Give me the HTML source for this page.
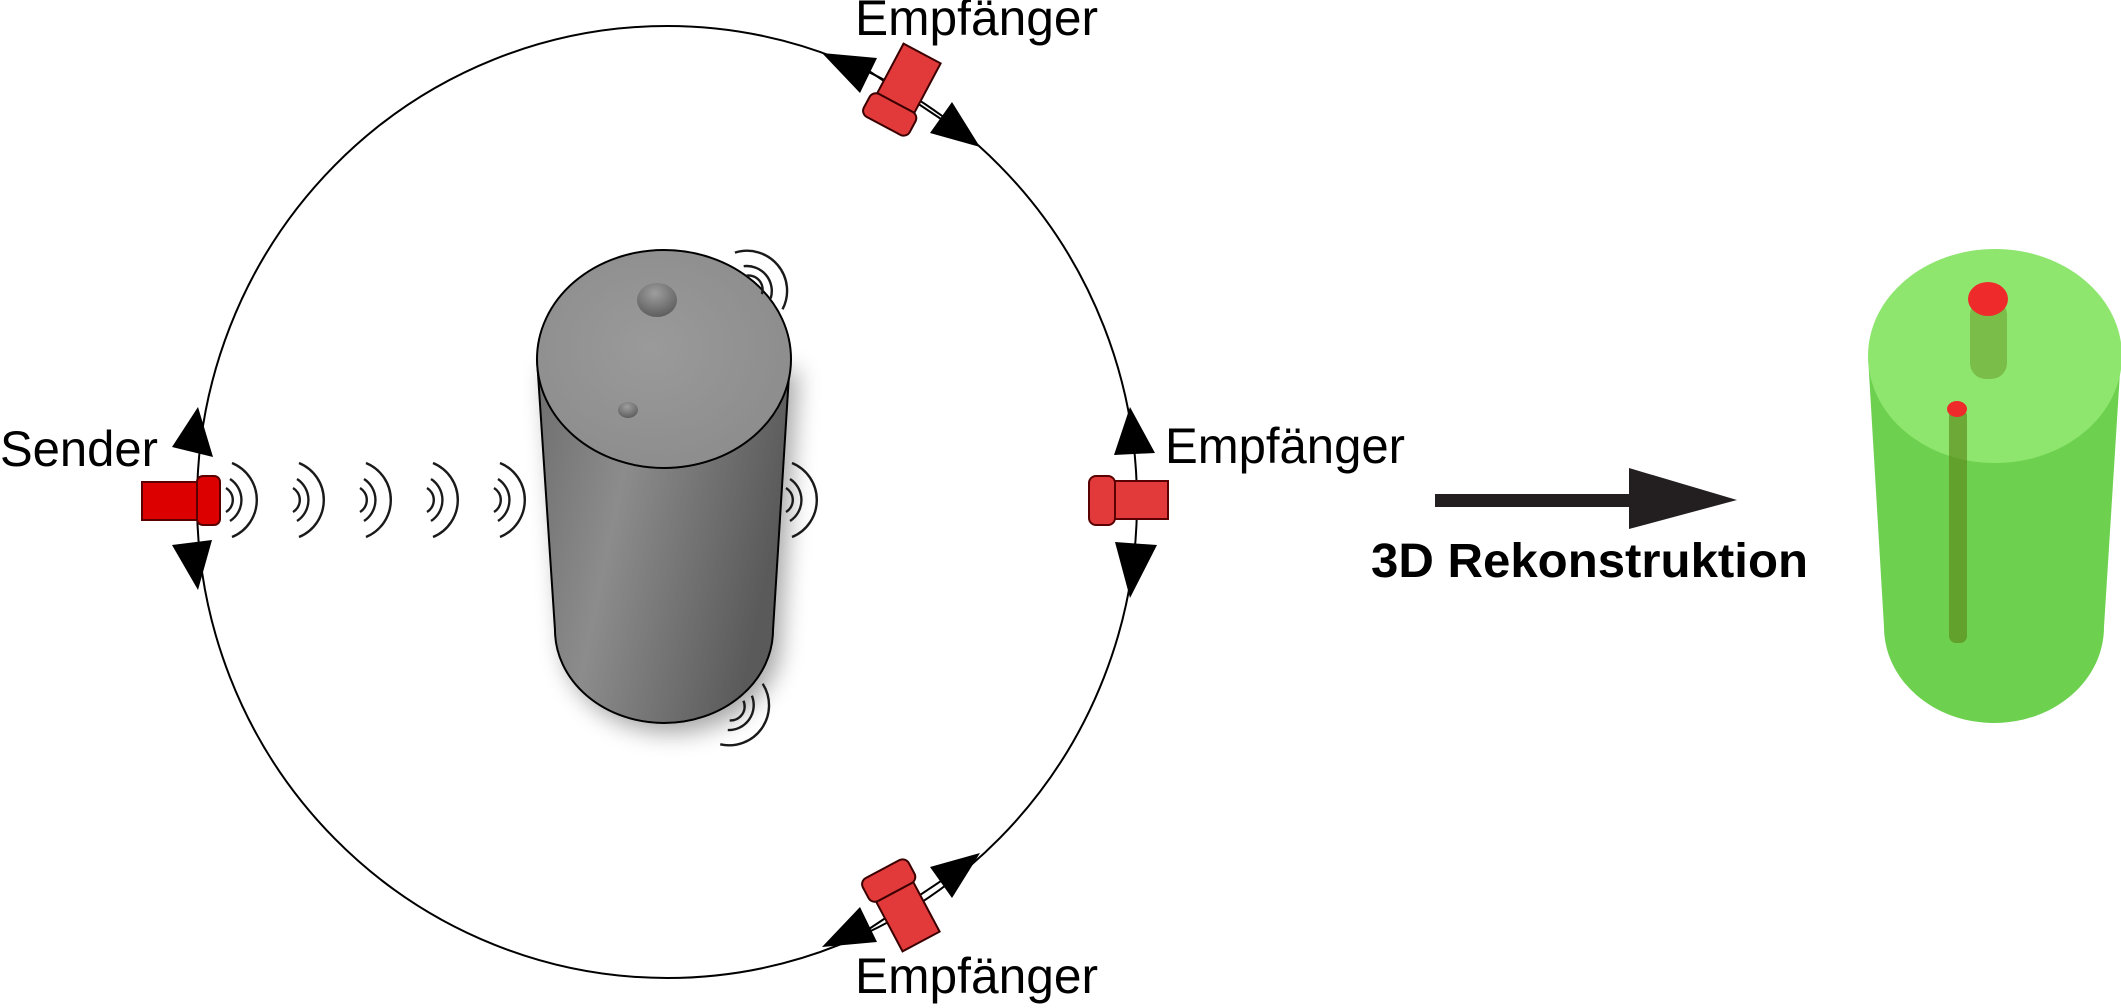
<!DOCTYPE html>
<html><head><meta charset="utf-8"><style>html,body{margin:0;padding:0;background:#fff;}svg{display:block}</style></head>
<body>
<svg width="2121" height="1008" viewBox="0 0 2121 1008" xmlns="http://www.w3.org/2000/svg">
<defs>
<radialGradient id="gtop" cx="0.45" cy="0.45" r="0.7"><stop offset="0" stop-color="#9a9a9a"/><stop offset="1" stop-color="#8a8a8a"/></radialGradient>
<linearGradient id="gbody" x1="0" y1="0" x2="1" y2="0.3"><stop offset="0" stop-color="#6e6e6e"/><stop offset="0.4" stop-color="#8c8c8c"/><stop offset="1" stop-color="#5a5a5a"/></linearGradient>
<radialGradient id="bump" cx="0.45" cy="0.3" r="0.7"><stop offset="0" stop-color="#9e9e9e"/><stop offset="1" stop-color="#5e5e5e"/></radialGradient>
<filter id="sh" x="-30%" y="-30%" width="160%" height="160%"><feGaussianBlur stdDeviation="12"/></filter>
<g id="waves" fill="none" stroke="#1a1a1a" stroke-width="2.4">
<path d="M8,-12 A14,14 0 0 1 8,12"/>
<path d="M12,-21 A25,25 0 0 1 12,21"/>
<path d="M14,-37 A40,40 0 0 1 14,37"/>
</g>
</defs>

<ellipse cx="667" cy="502" rx="470" ry="476" fill="none" stroke="#000" stroke-width="2"/>

<path d="M545,370 L563,640 A109,93 0 0 0 781,640 L798,370 Z" fill="#000" opacity="0.35" filter="url(#sh)"/>
<path d="M537,359 L555,630 A109,93 0 0 0 773,630 L790,359 Z" fill="url(#gbody)" stroke="#000" stroke-width="2"/>
<ellipse cx="664" cy="359" rx="127" ry="109" fill="url(#gtop)" stroke="#000" stroke-width="2"/>
<ellipse cx="657" cy="300" rx="20" ry="17" fill="url(#bump)"/>
<ellipse cx="628" cy="410" rx="10" ry="8" fill="url(#bump)"/>

<use href="#waves" x="218" y="500"/>
<use href="#waves" x="285" y="500"/>
<use href="#waves" x="352" y="500"/>
<use href="#waves" x="419" y="500"/>
<use href="#waves" x="486" y="500"/>
<use href="#waves" x="778" y="500"/>
<use href="#waves" transform="translate(748,290) rotate(-40)"/>
<use href="#waves" transform="translate(730,706) rotate(35)"/>

<rect x="142" y="482" width="55" height="38" fill="#dd0000" stroke="#5a0000" stroke-width="2"/>
<rect x="197" y="476" width="23" height="49" rx="6" fill="#dd0000" stroke="#5a0000" stroke-width="2"/>
<polygon points="198,407 172,447 213,457" fill="#000"/>
<polygon points="198,590 172,545 212,540" fill="#000"/>

<rect x="1115" y="481" width="53" height="38" fill="#e23a3a" stroke="#5a0000" stroke-width="2"/>
<rect x="1089" y="476" width="26" height="49" rx="7" fill="#e23a3a" stroke="#5a0000" stroke-width="2"/>
<polygon points="1130,407 1114,455 1155,453" fill="#000"/>
<polygon points="1130,598 1115,542 1157,545" fill="#000"/>

<line x1="860" y1="65" x2="950" y2="125" stroke="#000" stroke-width="2"/>
<g transform="translate(908,80) rotate(28)">
<rect x="-21" y="-30" width="42" height="56" fill="#e23a3a" stroke="#3a0000" stroke-width="2"/>
<rect x="-26" y="26" width="52" height="26" rx="7" fill="#e23a3a" stroke="#3a0000" stroke-width="2"/>
</g>
<polygon points="822,53 877,58 860,93" fill="#000"/>
<polygon points="980,147 930,133 952,102" fill="#000"/>

<line x1="860" y1="935" x2="950" y2="875" stroke="#000" stroke-width="2"/>
<g transform="translate(907,915) rotate(-28)">
<rect x="-21" y="-26" width="42" height="56" fill="#e23a3a" stroke="#3a0000" stroke-width="2"/>
<rect x="-26" y="-52" width="52" height="26" rx="7" fill="#e23a3a" stroke="#3a0000" stroke-width="2"/>
</g>
<polygon points="822,947 877,942 860,907" fill="#000"/>
<polygon points="980,853 930,867 952,898" fill="#000"/>

<g font-family="Liberation Sans, Arial, sans-serif" font-size="50" fill="#000">
<text x="0" y="466" textLength="158" lengthAdjust="spacingAndGlyphs">Sender</text>
<text x="855" y="35" textLength="243" lengthAdjust="spacingAndGlyphs">Empfänger</text>
<text x="1165" y="463" textLength="240" lengthAdjust="spacingAndGlyphs">Empfänger</text>
<text x="855" y="993" textLength="243" lengthAdjust="spacingAndGlyphs">Empfänger</text>
<text x="1371" y="577" font-weight="bold" font-size="48" textLength="437" lengthAdjust="spacingAndGlyphs">3D Rekonstruktion</text>
</g>

<rect x="1435" y="494" width="200" height="13" fill="#231f20"/>
<polygon points="1629,468 1737,500 1629,529" fill="#231f20"/>

<path d="M1868,356 L1884,627 A110,96 0 0 0 2104,627 L2121,356 Z" fill="#6dd14f"/>
<ellipse cx="1995" cy="356" rx="127" ry="107" fill="#8ee66f"/>
<rect x="1970" y="299" width="37" height="80" rx="16" fill="#6a9a2a" opacity="0.55"/>
<ellipse cx="1988" cy="299" rx="20" ry="17" fill="#ee2a2a"/>
<rect x="1949" y="409" width="18" height="234" rx="7" fill="#5e8f1e" opacity="0.7"/>
<ellipse cx="1957" cy="409" rx="10" ry="8" fill="#ee2a2a"/>
</svg>
</body></html>
